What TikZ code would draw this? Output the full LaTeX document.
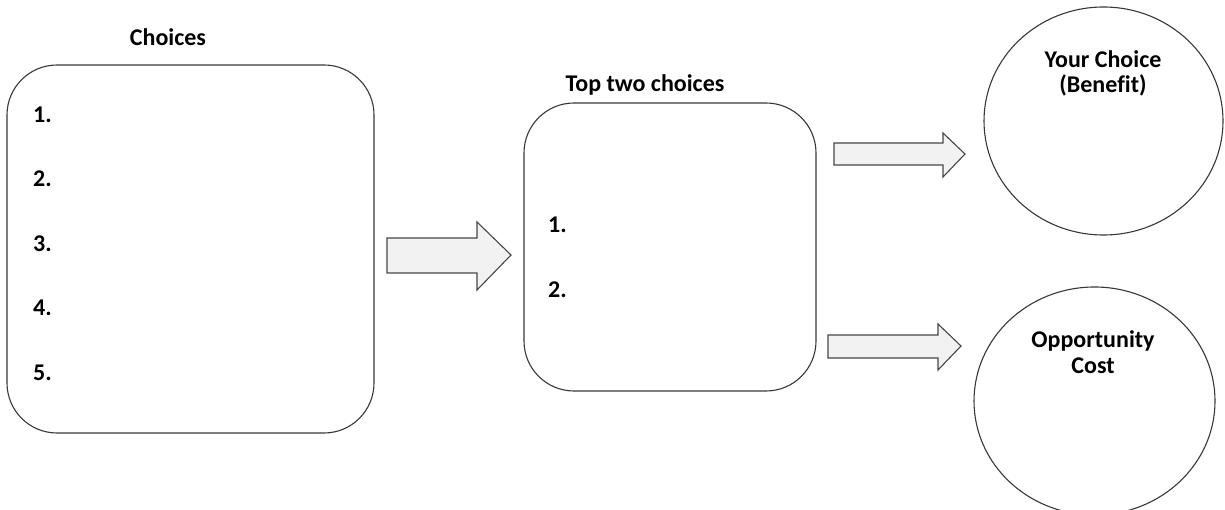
\documentclass[tikz,border=0pt]{standalone}
\usepackage{fontspec}
\setmainfont[Ligatures=NoCommon]{Carlito}
\usetikzlibrary{shapes.geometric}
\definecolor{linec}{RGB}{55,55,55}
\definecolor{arrowfill}{RGB}{242,242,242}
\definecolor{arrowline}{RGB}{70,70,70}
\begin{document}
\begin{tikzpicture}[x=1pt,y=-1pt,
  lbl/.style={font=\fontsize{24}{28}\selectfont\bfseries, inner sep=0pt},
  item/.style={lbl, anchor=base west},
  rbox/.style={draw=linec, line width=1.1pt, rounded corners=50pt, inner sep=0pt},
  circ/.style={draw=linec, line width=1.1pt, ellipse, inner sep=0pt},
  blockarrow/.style={draw=arrowline, fill=arrowfill, line width=1.1pt, line join=miter}]
\useasboundingbox (0,0) rectangle (1225,510);
\begin{scope}
\clip (0,0) rectangle (1225,510);
% boxes
\node[rbox, minimum width=367pt, minimum height=368pt] (choices) at (190.5,249) {};
\node[rbox, minimum width=292pt, minimum height=288pt] (top) at (670,247) {};
\node[circ, minimum width=239pt, minimum height=228pt] (benefit) at (1103.5,121) {};
\node[circ, minimum width=241pt, minimum height=228pt] (cost) at (1094.5,401) {};
\end{scope}
% titles
\node[lbl, anchor=base] (t1) at (168,46) {Choices};
\node[lbl, anchor=base] (t2) at (645,92) {Top two choices};
\node[lbl, anchor=base] (b1) at (1103,68) {Your Choice};
\node[lbl, anchor=base] (b2) at (1103,93) {(Benefit)};
\node[lbl, anchor=base] (c1) at (1093,347) {Opportunity};
\node[lbl, anchor=base] (c2) at (1093,373) {Cost};
% items
\node[item] (i1) at (33,123) {1.};
\node[item] (i2) at (33,187) {2.};
\node[item] (i3) at (33,252) {3.};
\node[item] (i4) at (33,316) {4.};
\node[item] (i5) at (33,380) {5.};
\node[item] (j1) at (548,233) {1.};
\node[item] (j2) at (548,298) {2.};
% block arrows
\draw[blockarrow] (387,238) -- (477,238) -- (477,222) -- (511,255) -- (477,290) -- (477,273) -- (387,273) -- cycle;
\draw[blockarrow] (834,143) -- (943,143) -- (943,133) -- (965,154) -- (943,177) -- (943,165) -- (834,165) -- cycle;
\draw[blockarrow] (828,335) -- (938,335) -- (938,324) -- (961,346) -- (938,370) -- (938,358) -- (828,358) -- cycle;
\end{tikzpicture}
\end{document}
